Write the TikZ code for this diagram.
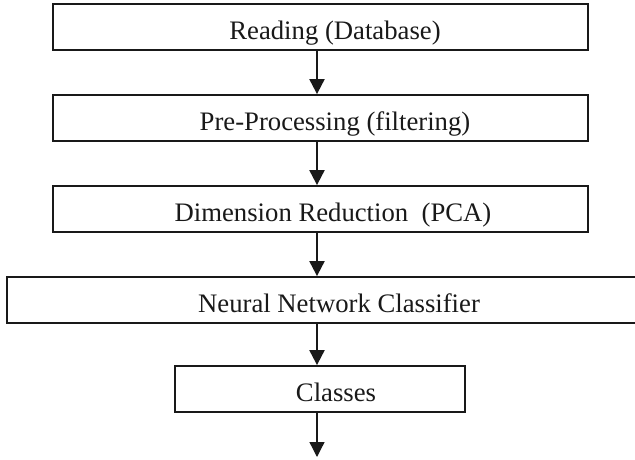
\documentclass[tikz,border=0pt]{standalone}
\usepackage{fontspec}
\setmainfont{Liberation Serif}
\usetikzlibrary{arrows.meta}
\begin{document}
\begin{tikzpicture}[x=1pt,y=-1pt,
  box/.style={draw=black!90, line width=1.8pt, rectangle, inner sep=0pt, minimum height=46pt},
  txt/.style={anchor=base, inner sep=0pt, font=\fontsize{26.7}{30}\selectfont, text=black!90},
  arr/.style={draw=black!90, line width=2pt, -{Triangle[length=15pt,width=15pt]}},
  arrthin/.style={draw=black!90, line width=1.3pt, -{Triangle[length=15pt,width=15pt]}}]
\useasboundingbox (0,0) rectangle (635,459);
\clip (0,0) rectangle (635,459);
\node[box, minimum width=535pt] (b1) at (320.5,27) {};
\node[box, minimum width=535pt] (b2) at (320.5,118) {};
\node[box, minimum width=535pt] (b3) at (320.5,209) {};
\node[box, minimum width=640pt] (b4) at (327,300) {};
\node[box, minimum width=290pt] (b5) at (320,389) {};
\node[txt] (t1) at (335,39) {Reading (Database)};
\node[txt] (t2) at (335,130) {Pre-Processing (filtering)};
\node[txt] (t3) at (333,221) {Dimension Reduction\ \ (PCA)};
\node[txt] (t4) at (339,312) {Neural Network Classifier};
\node[txt] (t5) at (336,401) {Classes};
\coordinate (ax) at (317,0);
\coordinate (end) at (317,457);
\draw[arr] (b1.south -| ax) -- (b2.north -| ax);
\draw[arr] (b2.south -| ax) -- (b3.north -| ax);
\draw[arr] (b3.south -| ax) -- (b4.north -| ax);
\draw[arr] (b4.south -| ax) -- (b5.north -| ax);
\draw[arrthin] (b5.south -| ax) -- (end);
\end{tikzpicture}
\end{document}
